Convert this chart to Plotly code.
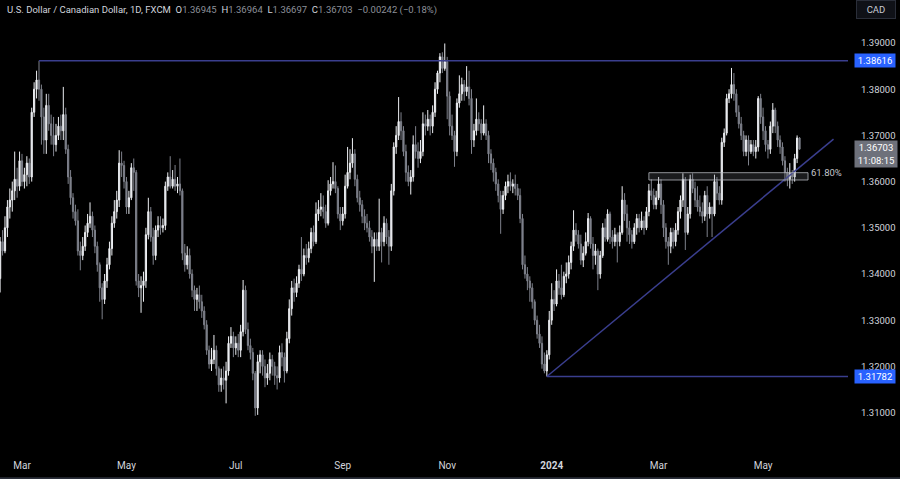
import pandas as pd
import plotly.graph_objects as go

# ---------------- data (USD/CAD daily, FXCM) ----------------
opens = [
    1.3390, 1.3470, 1.3450, 1.3500, 1.3545, 1.3560, 1.3580, 1.3605, 1.3590, 1.3645,
    1.3600, 1.3615, 1.3640, 1.3610, 1.3750, 1.3800, 1.3820, 1.3800, 1.3740, 1.3690,
    1.3765, 1.3725, 1.3700, 1.3680, 1.3700, 1.3720, 1.3710, 1.3745, 1.3670, 1.3610,
    1.3565, 1.3535, 1.3515, 1.3450, 1.3440, 1.3460, 1.3490, 1.3510, 1.3525, 1.3495,
    1.3460, 1.3420, 1.3370, 1.3345, 1.3385, 1.3420, 1.3455, 1.3510, 1.3535, 1.3560,
    1.3640, 1.3635, 1.3600, 1.3545, 1.3565, 1.3630, 1.3620, 1.3385, 1.3370, 1.3375,
    1.3385, 1.3485, 1.3535, 1.3480, 1.3440, 1.3495, 1.3505, 1.3500, 1.3505, 1.3590,
    1.3610, 1.3590, 1.3605, 1.3590, 1.3595, 1.3580, 1.3445, 1.3420, 1.3440, 1.3400,
    1.3365, 1.3345, 1.3355, 1.3340, 1.3320, 1.3290, 1.3235, 1.3205, 1.3215, 1.3235,
    1.3195, 1.3160, 1.3175, 1.3170, 1.3190, 1.3250, 1.3265, 1.3240, 1.3250, 1.3235,
    1.3275, 1.3365, 1.3280, 1.3245, 1.3230, 1.3185, 1.3110, 1.3210, 1.3225, 1.3200,
    1.3175, 1.3185, 1.3215, 1.3200, 1.3180, 1.3175, 1.3230, 1.3220, 1.3190, 1.3260,
    1.3325, 1.3370, 1.3360, 1.3380, 1.3410, 1.3400, 1.3440, 1.3435, 1.3455, 1.3490,
    1.3470, 1.3530, 1.3540, 1.3545, 1.3535, 1.3510, 1.3580, 1.3595, 1.3600, 1.3585,
    1.3530, 1.3515, 1.3530, 1.3590, 1.3620, 1.3640, 1.3660, 1.3605, 1.3565, 1.3550,
    1.3525, 1.3510, 1.3500, 1.3480, 1.3460, 1.3475, 1.3460, 1.3490, 1.3470, 1.3510,
    1.3480, 1.3460, 1.3580, 1.3675, 1.3700, 1.3730, 1.3710, 1.3665, 1.3620, 1.3600,
    1.3610, 1.3680, 1.3665, 1.3650, 1.3665, 1.3725, 1.3720, 1.3735, 1.3720, 1.3750,
    1.3800, 1.3835, 1.3870, 1.3845, 1.3860, 1.3785, 1.3720, 1.3700, 1.3665, 1.3770,
    1.3790, 1.3810, 1.3795, 1.3805, 1.3780, 1.3690, 1.3710, 1.3735, 1.3725, 1.3705,
    1.3725, 1.3700, 1.3660, 1.3640, 1.3620, 1.3595, 1.3570, 1.3540, 1.3570, 1.3590,
    1.3600, 1.3590, 1.3595, 1.3585, 1.3570, 1.3520, 1.3420, 1.3400, 1.3385, 1.3370,
    1.3340, 1.3300, 1.3270, 1.3250, 1.3205, 1.3190, 1.3225, 1.3300, 1.3345, 1.3335,
    1.3385, 1.3370, 1.3355, 1.3395, 1.3400, 1.3425, 1.3460, 1.3495, 1.3485, 1.3465,
    1.3430, 1.3445, 1.3470, 1.3520, 1.3465, 1.3440, 1.3450, 1.3400, 1.3440, 1.3500,
    1.3475, 1.3530, 1.3480, 1.3470, 1.3485, 1.3470, 1.3490, 1.3560, 1.3530, 1.3500,
    1.3485, 1.3470, 1.3500, 1.3520, 1.3500, 1.3515, 1.3500, 1.3535, 1.3580, 1.3570,
    1.3550, 1.3565, 1.3595, 1.3550, 1.3500, 1.3470, 1.3460, 1.3490, 1.3470, 1.3495,
    1.3535, 1.3560, 1.3605, 1.3490, 1.3530, 1.3605, 1.3585, 1.3560, 1.3545, 1.3535,
    1.3525, 1.3570, 1.3530, 1.3545, 1.3530, 1.3600, 1.3575, 1.3560, 1.3685, 1.3705,
    1.3780, 1.3790, 1.3810, 1.3790, 1.3750, 1.3725, 1.3700, 1.3665, 1.3690, 1.3665,
    1.3680, 1.3665, 1.3675, 1.3780, 1.3740, 1.3710, 1.3680, 1.3670, 1.3720, 1.3755,
    1.3720, 1.3690, 1.3675, 1.3645, 1.3620, 1.3605, 1.3618, 1.3610, 1.3650, 1.36945,
]
highs = [
    1.3480, 1.3495, 1.3525, 1.3560, 1.3585, 1.3600, 1.3665, 1.3630, 1.3665, 1.3660,
    1.3630, 1.3655, 1.3650, 1.3760, 1.3815, 1.3840, 1.38616, 1.3810, 1.3760, 1.3790,
    1.3790, 1.3745, 1.3740, 1.3725, 1.3740, 1.3745, 1.3805, 1.3760, 1.3680, 1.3625,
    1.3575, 1.3550, 1.3540, 1.3470, 1.3480, 1.3505, 1.3530, 1.3555, 1.3535, 1.3505,
    1.3470, 1.3425, 1.3380, 1.3400, 1.3435, 1.3470, 1.3525, 1.3560, 1.3580, 1.3668,
    1.3665, 1.3645, 1.3610, 1.3580, 1.3640, 1.3650, 1.3625, 1.3400, 1.3395, 1.3405,
    1.3500, 1.3565, 1.3545, 1.3500, 1.3505, 1.3525, 1.3525, 1.3520, 1.3600, 1.3620,
    1.3655, 1.3625, 1.3636, 1.3610, 1.3650, 1.3585, 1.3465, 1.3460, 1.3455, 1.3410,
    1.3375, 1.3370, 1.3375, 1.3355, 1.3330, 1.3300, 1.3245, 1.3240, 1.3268, 1.3245,
    1.3200, 1.3195, 1.3200, 1.3210, 1.3265, 1.3285, 1.3275, 1.3265, 1.3270, 1.3290,
    1.3387, 1.3375, 1.3295, 1.3260, 1.3240, 1.3190, 1.3225, 1.3235, 1.3235, 1.3215,
    1.3205, 1.3230, 1.3225, 1.3210, 1.3200, 1.3245, 1.3250, 1.3230, 1.3275, 1.3345,
    1.3385, 1.3390, 1.3395, 1.3420, 1.3480, 1.3455, 1.3465, 1.3470, 1.3500, 1.3505,
    1.3555, 1.3560, 1.3575, 1.3570, 1.3550, 1.3603, 1.3610, 1.3642, 1.3635, 1.3590,
    1.3545, 1.3545, 1.3615, 1.3675, 1.3670, 1.3694, 1.3670, 1.3615, 1.3580, 1.3560,
    1.3540, 1.3530, 1.3515, 1.3495, 1.3490, 1.3490, 1.3563, 1.3500, 1.3525, 1.3520,
    1.3495, 1.3595, 1.3685, 1.3720, 1.3783, 1.3750, 1.3720, 1.3680, 1.3635, 1.3625,
    1.3700, 1.3720, 1.3685, 1.3690, 1.3750, 1.3745, 1.3755, 1.3745, 1.3765, 1.3815,
    1.3840, 1.3878, 1.3880, 1.3899, 1.3870, 1.3795, 1.3745, 1.3710, 1.3780, 1.3830,
    1.3825, 1.3820, 1.3850, 1.3840, 1.3800, 1.3725, 1.3780, 1.3750, 1.3735, 1.3765,
    1.3735, 1.3710, 1.3670, 1.3650, 1.3630, 1.3605, 1.3580, 1.3580, 1.3600, 1.3615,
    1.3620, 1.3605, 1.3615, 1.3595, 1.3585, 1.3530, 1.3440, 1.3415, 1.3395, 1.3380,
    1.3345, 1.3310, 1.3290, 1.3265, 1.3230, 1.3235, 1.3320, 1.3380, 1.3365, 1.3410,
    1.3400, 1.3420, 1.3405, 1.3425, 1.3440, 1.3470, 1.3538, 1.3510, 1.3495, 1.3485,
    1.3460, 1.3490, 1.3532, 1.3525, 1.3480, 1.3465, 1.3455, 1.3450, 1.3510, 1.3520,
    1.3540, 1.3535, 1.3495, 1.3500, 1.3490, 1.3505, 1.3590, 1.3575, 1.3550, 1.3515,
    1.3495, 1.3510, 1.3530, 1.3530, 1.3535, 1.3525, 1.3545, 1.3595, 1.3605, 1.3585,
    1.3580, 1.3610, 1.3605, 1.3560, 1.3510, 1.3480, 1.3500, 1.3500, 1.3510, 1.3545,
    1.3570, 1.3618, 1.3610, 1.3545, 1.3615, 1.3618, 1.3600, 1.3590, 1.3570, 1.3555,
    1.3580, 1.3590, 1.3555, 1.3545, 1.3615, 1.3610, 1.3590, 1.3695, 1.3715, 1.3790,
    1.3800, 1.3846, 1.3835, 1.3800, 1.3765, 1.3740, 1.3710, 1.3700, 1.3700, 1.3690,
    1.3690, 1.3690, 1.3785, 1.3790, 1.3760, 1.3720, 1.3690, 1.3730, 1.3770, 1.3760,
    1.3730, 1.3700, 1.3685, 1.3655, 1.3630, 1.3640, 1.3625, 1.3660, 1.3700, 1.36964,
]
lows = [
    1.3360, 1.3440, 1.3445, 1.3480, 1.3520, 1.3535, 1.3560, 1.3565, 1.3580, 1.3590,
    1.3585, 1.3590, 1.3595, 1.3600, 1.3740, 1.3780, 1.3775, 1.3680, 1.3660, 1.3660,
    1.3710, 1.3680, 1.3655, 1.3665, 1.3690, 1.3690, 1.3690, 1.3660, 1.3595, 1.3550,
    1.3520, 1.3505, 1.3440, 1.3408, 1.3430, 1.3450, 1.3480, 1.3500, 1.3480, 1.3445,
    1.3405, 1.3340, 1.3302, 1.3335, 1.3370, 1.3410, 1.3440, 1.3500, 1.3520, 1.3545,
    1.3610, 1.3585, 1.3530, 1.3530, 1.3560, 1.3580, 1.3375, 1.3350, 1.3316, 1.3340,
    1.3370, 1.3475, 1.3470, 1.3420, 1.3430, 1.3480, 1.3485, 1.3490, 1.3495, 1.3580,
    1.3585, 1.3585, 1.3580, 1.3575, 1.3570, 1.3430, 1.3405, 1.3410, 1.3390, 1.3350,
    1.3320, 1.3320, 1.3325, 1.3305, 1.3280, 1.3225, 1.3195, 1.3190, 1.3205, 1.3180,
    1.3145, 1.3145, 1.3150, 1.3120, 1.3180, 1.3240, 1.3220, 1.3225, 1.3220, 1.3220,
    1.3265, 1.3270, 1.3235, 1.3215, 1.3170, 1.3093, 1.3095, 1.3185, 1.3180, 1.3155,
    1.3160, 1.3170, 1.3180, 1.3160, 1.3150, 1.3165, 1.3200, 1.3165, 1.3185, 1.3250,
    1.3310, 1.3340, 1.3350, 1.3370, 1.3385, 1.3395, 1.3420, 1.3425, 1.3445, 1.3460,
    1.3465, 1.3515, 1.3525, 1.3520, 1.3500, 1.3505, 1.3570, 1.3585, 1.3575, 1.3520,
    1.3495, 1.3505, 1.3520, 1.3585, 1.3605, 1.3630, 1.3590, 1.3555, 1.3535, 1.3510,
    1.3495, 1.3490, 1.3470, 1.3445, 1.3383, 1.3450, 1.3450, 1.3425, 1.3460, 1.3465,
    1.3420, 1.3450, 1.3570, 1.3660, 1.3690, 1.3690, 1.3655, 1.3600, 1.3590, 1.3572,
    1.3600, 1.3650, 1.3630, 1.3640, 1.3655, 1.3700, 1.3710, 1.3700, 1.3705, 1.3740,
    1.3790, 1.3815, 1.3835, 1.3840, 1.3735, 1.3700, 1.3690, 1.3632, 1.3655, 1.3760,
    1.3775, 1.3775, 1.3785, 1.3765, 1.3660, 1.3675, 1.3700, 1.3710, 1.3690, 1.3700,
    1.3690, 1.3640, 1.3625, 1.3600, 1.3580, 1.3555, 1.3487, 1.3530, 1.3560, 1.3575,
    1.3580, 1.3575, 1.3570, 1.3560, 1.3510, 1.3410, 1.3390, 1.3365, 1.3340, 1.3325,
    1.3290, 1.3260, 1.3240, 1.3195, 1.3185, 1.31782, 1.3215, 1.3290, 1.3320, 1.3330,
    1.3355, 1.3345, 1.3350, 1.3380, 1.3390, 1.3410, 1.3450, 1.3470, 1.3455, 1.3420,
    1.3415, 1.3440, 1.3460, 1.3455, 1.3410, 1.3420, 1.3365, 1.3390, 1.3435, 1.3470,
    1.3470, 1.3465, 1.3455, 1.3460, 1.3425, 1.3460, 1.3485, 1.3515, 1.3470, 1.3465,
    1.3455, 1.3465, 1.3485, 1.3490, 1.3495, 1.3485, 1.3495, 1.3525, 1.3560, 1.3540,
    1.3540, 1.3560, 1.3530, 1.3480, 1.3455, 1.3420, 1.3445, 1.3455, 1.3460, 1.3485,
    1.3520, 1.3545, 1.3452, 1.3485, 1.3520, 1.3575, 1.3545, 1.3535, 1.3525, 1.3510,
    1.3515, 1.3480, 1.3520, 1.3480, 1.3525, 1.3560, 1.3550, 1.3550, 1.3675, 1.3700,
    1.3770, 1.3780, 1.3775, 1.3740, 1.3715, 1.3690, 1.3655, 1.3655, 1.3635, 1.3660,
    1.3655, 1.3650, 1.3665, 1.3725, 1.3690, 1.3665, 1.3650, 1.3660, 1.3705, 1.3705,
    1.3675, 1.3660, 1.3635, 1.3600, 1.3590, 1.3585, 1.3595, 1.3600, 1.3640, 1.36697,
]
closes = [
    1.3470, 1.3450, 1.3500, 1.3545, 1.3560, 1.3580, 1.3605, 1.3590, 1.3645, 1.3600,
    1.3615, 1.3640, 1.3610, 1.3750, 1.3800, 1.3820, 1.3800, 1.3740, 1.3690, 1.3765,
    1.3725, 1.3700, 1.3680, 1.3700, 1.3720, 1.3710, 1.3745, 1.3670, 1.3610, 1.3565,
    1.3535, 1.3515, 1.3450, 1.3440, 1.3460, 1.3490, 1.3510, 1.3525, 1.3495, 1.3460,
    1.3420, 1.3370, 1.3345, 1.3385, 1.3420, 1.3455, 1.3510, 1.3535, 1.3560, 1.3640,
    1.3635, 1.3600, 1.3545, 1.3565, 1.3630, 1.3620, 1.3385, 1.3370, 1.3375, 1.3385,
    1.3485, 1.3535, 1.3480, 1.3440, 1.3495, 1.3505, 1.3500, 1.3505, 1.3590, 1.3610,
    1.3590, 1.3605, 1.3590, 1.3595, 1.3580, 1.3445, 1.3420, 1.3440, 1.3400, 1.3365,
    1.3345, 1.3355, 1.3340, 1.3320, 1.3290, 1.3235, 1.3205, 1.3215, 1.3235, 1.3195,
    1.3160, 1.3175, 1.3170, 1.3190, 1.3250, 1.3265, 1.3240, 1.3250, 1.3235, 1.3275,
    1.3365, 1.3280, 1.3245, 1.3230, 1.3185, 1.3110, 1.3210, 1.3225, 1.3200, 1.3175,
    1.3185, 1.3215, 1.3200, 1.3180, 1.3175, 1.3230, 1.3220, 1.3190, 1.3260, 1.3325,
    1.3370, 1.3360, 1.3380, 1.3410, 1.3400, 1.3440, 1.3435, 1.3455, 1.3490, 1.3470,
    1.3530, 1.3540, 1.3545, 1.3535, 1.3510, 1.3580, 1.3595, 1.3600, 1.3585, 1.3530,
    1.3515, 1.3530, 1.3590, 1.3620, 1.3640, 1.3660, 1.3605, 1.3565, 1.3550, 1.3525,
    1.3510, 1.3500, 1.3480, 1.3460, 1.3475, 1.3460, 1.3490, 1.3470, 1.3510, 1.3480,
    1.3460, 1.3580, 1.3675, 1.3700, 1.3730, 1.3710, 1.3665, 1.3620, 1.3600, 1.3610,
    1.3680, 1.3665, 1.3650, 1.3665, 1.3725, 1.3720, 1.3735, 1.3720, 1.3750, 1.3800,
    1.3835, 1.3870, 1.3845, 1.3860, 1.3785, 1.3720, 1.3700, 1.3665, 1.3770, 1.3790,
    1.3810, 1.3795, 1.3805, 1.3780, 1.3690, 1.3710, 1.3735, 1.3725, 1.3705, 1.3725,
    1.3700, 1.3660, 1.3640, 1.3620, 1.3595, 1.3570, 1.3540, 1.3570, 1.3590, 1.3600,
    1.3590, 1.3595, 1.3585, 1.3570, 1.3520, 1.3420, 1.3400, 1.3385, 1.3370, 1.3340,
    1.3300, 1.3270, 1.3250, 1.3205, 1.3190, 1.3225, 1.3300, 1.3345, 1.3335, 1.3385,
    1.3370, 1.3355, 1.3395, 1.3400, 1.3425, 1.3460, 1.3495, 1.3485, 1.3465, 1.3430,
    1.3445, 1.3470, 1.3520, 1.3465, 1.3440, 1.3450, 1.3400, 1.3440, 1.3500, 1.3480,
    1.3530, 1.3480, 1.3470, 1.3485, 1.3470, 1.3490, 1.3560, 1.3530, 1.3500, 1.3485,
    1.3470, 1.3500, 1.3520, 1.3500, 1.3515, 1.3500, 1.3535, 1.3580, 1.3570, 1.3550,
    1.3565, 1.3595, 1.3550, 1.3500, 1.3470, 1.3460, 1.3490, 1.3470, 1.3495, 1.3535,
    1.3560, 1.3605, 1.3490, 1.3530, 1.3605, 1.3585, 1.3560, 1.3545, 1.3535, 1.3525,
    1.3570, 1.3530, 1.3545, 1.3530, 1.3600, 1.3575, 1.3560, 1.3685, 1.3705, 1.3780,
    1.3790, 1.3810, 1.3790, 1.3750, 1.3725, 1.3700, 1.3665, 1.3690, 1.3665, 1.3680,
    1.3665, 1.3675, 1.3780, 1.3740, 1.3710, 1.3680, 1.3670, 1.3720, 1.3755, 1.3720,
    1.3690, 1.3675, 1.3645, 1.3620, 1.3605, 1.3618, 1.3610, 1.3650, 1.36945, 1.36703,
]
assert len(opens) == len(highs) == len(lows) == len(closes) == 330

first_date = "2023-02-16"
price_ticks = [1.31, 1.32, 1.33, 1.34, 1.35, 1.36, 1.37, 1.38, 1.39]
month_labels = {1: "2024", 3: "Mar", 5: "May", 7: "Jul", 9: "Sep", 11: "Nov"}

# drawings
resist_level = 1.38616      # horizontal line from the March 2023 high
resist_start = 16
support_level = 1.31782     # horizontal line from the December 2023 low
support_start = 225
trend_pts = [(225, 1.31782), (343, 1.3692)]
fib_zone = dict(x0=267, x1=332.5, y0=1.36035, y1=1.36193)
fib_text = "61.80%"
last_price = 1.36703
countdown = "11:08:15"

# ---------------- figure ----------------
FONT = "Roboto, 'Liberation Sans', sans-serif"
UP = "#eceef2"
DOWN = "#7e818b"
LINE = "#3a3e8e"
X_MAX = 348.95
Y_RANGE = [1.30082, 1.39931]

idx = list(range(len(closes)))
dates = pd.bdate_range(first_date, periods=len(closes))

tickvals, ticktext = [], []
for i, d in enumerate(dates):
    if i > 0 and d.month != dates[i - 1].month and d.month in month_labels:
        tickvals.append(i)
        lab = month_labels[d.month]
        ticktext.append(f"<b>{lab}</b>" if d.month == 1 else lab)

fig = go.Figure()
fig.add_trace(go.Candlestick(
    x=idx, open=opens, high=highs, low=lows, close=closes,
    increasing=dict(line=dict(color=UP, width=1), fillcolor=UP),
    decreasing=dict(line=dict(color=DOWN, width=1), fillcolor=DOWN),
    whiskerwidth=0, hoverinfo="skip", showlegend=False,
))

shapes = [
    dict(type="line", x0=resist_start, x1=X_MAX, y0=resist_level, y1=resist_level,
         xref="x", yref="y", line=dict(color=LINE, width=1.5)),
    dict(type="line", x0=support_start, x1=X_MAX, y0=support_level, y1=support_level,
         xref="x", yref="y", line=dict(color=LINE, width=1.5)),
    dict(type="line", x0=trend_pts[0][0], y0=trend_pts[0][1],
         x1=trend_pts[1][0], y1=trend_pts[1][1],
         xref="x", yref="y", line=dict(color=LINE, width=1.5)),
    dict(type="rect", xref="x", yref="y", **fib_zone,
         line=dict(color="rgba(190,192,200,0.75)", width=1),
         fillcolor="rgba(120,123,134,0.22)"),
    dict(type="line", xref="paper", yref="paper", x0=0, x1=1.07, y0=-0.051, y1=-0.051,
         line=dict(color="#2a2e39", width=2)),
]

GRAY = "#8d909a"
LIGHT = "#d1d4dc"
sp = "\u00a0"
header = (
    f"<span style='color:{LIGHT}'>U.S. Dollar / Canadian Dollar, 1D, FXCM</span>{sp}{sp}"
    f"<span style='color:{LIGHT}'>O</span><span style='color:{GRAY}'>{opens[-1]:.5f}</span>{sp}{sp}"
    f"<span style='color:{LIGHT}'>H</span><span style='color:{GRAY}'>{highs[-1]:.5f}</span>{sp}{sp}"
    f"<span style='color:{LIGHT}'>L</span><span style='color:{GRAY}'>{lows[-1]:.5f}</span>{sp}{sp}"
    f"<span style='color:{LIGHT}'>C</span><span style='color:{GRAY}'>{closes[-1]:.5f}</span>{sp}{sp}"
    f"<span style='color:{GRAY}'>\u22120.00242 (\u22120.18%)</span>"
)

annotations = [
    dict(text=header, xref="paper", yref="paper", x=0, y=1 - 10 / 455,
         xanchor="left", yanchor="middle", xshift=5, showarrow=False,
         font=dict(family=FONT, size=9.5, color=LIGHT)),
    dict(text=fib_text, xref="x", yref="y", x=fib_zone["x1"], y=fib_zone["y1"],
         xanchor="left", yanchor="middle", xshift=1, showarrow=False,
         font=dict(family=FONT, size=9.5, color="#c4c6cc")),
    dict(text=f"{resist_level:.5f}", xref="paper", yref="y", x=1, y=resist_level,
         xanchor="left", yanchor="middle", xshift=6, showarrow=False,
         bgcolor="#2962ff", width=40, height=13, borderpad=0,
         font=dict(family=FONT, size=9.5, color="#ffffff")),
    dict(text=f"{support_level:.5f}", xref="paper", yref="y", x=1, y=support_level,
         xanchor="left", yanchor="middle", xshift=6, showarrow=False,
         bgcolor="#2962ff", width=40, height=13, borderpad=0,
         font=dict(family=FONT, size=9.5, color="#ffffff")),
    dict(text=f"{last_price:.5f}<br>{countdown}", xref="paper", yref="paper",
         x=1, y=1 - 140 / 455, xanchor="left", yanchor="top", xshift=6,
         showarrow=False, bgcolor="#6e717b", width=42, height=26, borderpad=0,
         font=dict(family=FONT, size=9.5, color="#ffffff")),
    dict(text="CAD", xref="paper", yref="paper", x=1, y=1,
         xanchor="left", yanchor="top", xshift=8, showarrow=False,
         bgcolor="#0f1117", bordercolor="#2a2e39", borderwidth=1,
         width=38, height=17, borderpad=0,
         font=dict(family=FONT, size=9.5, color="#c8cbd3")),
]

fig.update_layout(
    width=900, height=479,
    margin=dict(l=0, r=52, t=0, b=24),
    paper_bgcolor="#000000", plot_bgcolor="#000000",
    font=dict(family=FONT, size=9.5, color=LIGHT),
    shapes=shapes, annotations=annotations,
    hovermode=False,
    xaxis=dict(range=[-0.05, X_MAX], rangeslider=dict(visible=False),
               showgrid=False, zeroline=False, showline=False, ticks="",
               tickvals=tickvals, ticktext=ticktext, ticklabelstandoff=3,
               tickfont=dict(family=FONT, size=10, color=LIGHT)),
    yaxis=dict(range=Y_RANGE, side="right", showgrid=False, zeroline=False,
               showline=False, ticks="", tickvals=price_ticks,
               ticktext=[f"{v:.5f}" for v in price_ticks],
               ticklabelstandoff=12,
               tickfont=dict(family=FONT, size=9.5, color=LIGHT)),
)

fig.write_html(
    "out.html",
    config={"displayModeBar": False},
    post_script="document.body.style.margin='0';document.body.style.background='#000';",
)
